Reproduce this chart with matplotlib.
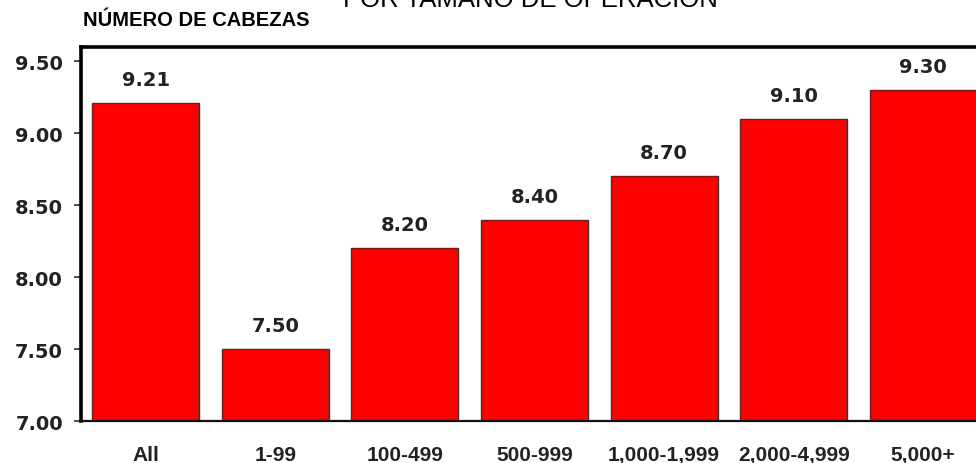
import numpy as np
import matplotlib
matplotlib.use("Agg")
import matplotlib.pyplot as plt

# Chart data
categories = ["All", "1-99", "100-499", "500-999", "1,000-1,999", "2,000-4,999", "5,000+"]
values = [9.21, 7.50, 8.20, 8.40, 8.70, 9.10, 9.30]
value_labels = ["9.21", "7.50", "8.20", "8.40", "8.70", "9.10", "9.30"]
y_ticks = [7.00, 7.50, 8.00, 8.50, 9.00, 9.50]

title = "POR TAMAÑO DE OPERACIÓN"
y_title = "NÚMERO DE CABEZAS"

text_color = "#222222"
bar_color = "#ff0000"

fig = plt.figure(figsize=(9.76, 4.64), dpi=100)
# axes runs a little past the right edge, as in the cropped original
ax = fig.add_axes([81 / 976, 42 / 464, (988 - 81) / 976, 374 / 464])

x = np.arange(len(categories))
ax.bar(x, values, width=0.826, bottom=0, color=bar_color,
       edgecolor="#333333", linewidth=1.0, zorder=2)

ax.set_xlim(-0.5, len(categories) - 0.5)
ax.set_ylim(7.0, 9.6)

# value labels above bars
for xi, v, lab in zip(x, values, value_labels):
    ax.annotate(lab, (xi, v), xytext=(0, 13), textcoords="offset points",
                ha="center", va="baseline", fontsize=14, fontweight="bold",
                family="DejaVu Sans", color=text_color)

ax.set_yticks(y_ticks)
ax.set_yticklabels([f"{t:.2f}" for t in y_ticks], family="DejaVu Sans",
                   fontweight="bold", fontsize=14, color=text_color)
ax.tick_params(axis="y", length=5, width=1.2, pad=8, color="#333333")

ax.set_xticks(x)
ax.set_xticklabels(categories, family="Liberation Sans", fontweight="bold",
                   fontsize=15, color=text_color)
ax.tick_params(axis="x", length=0, pad=17)

for side in ["top", "left", "right"]:
    ax.spines[side].set_linewidth(2.6)
    ax.spines[side].set_color("black")
ax.spines["bottom"].set_linewidth(1.6)
ax.spines["bottom"].set_color("#111111")

fig.text(83 / 976, 1 - 26 / 464, y_title, family="Liberation Sans",
         fontweight="bold", fontsize=14.5, color="black", va="baseline", ha="left")
# title is cut off by the top edge in the original picture
fig.text(343 / 976, 1 - 7 / 464, title, family="Liberation Sans",
         fontsize=18.5, color="black", va="baseline", ha="left")

fig.savefig("out.png", dpi=100)
